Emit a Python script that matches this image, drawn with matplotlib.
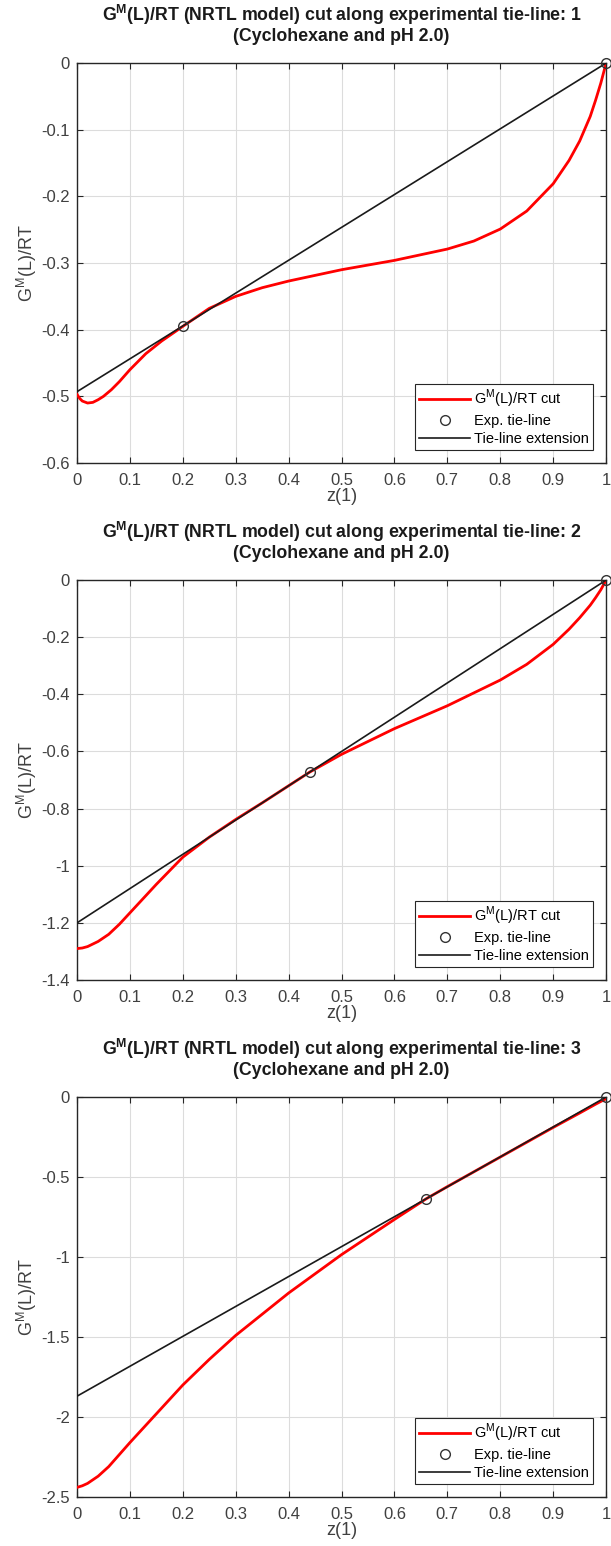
import matplotlib
matplotlib.use("Agg")
import matplotlib.pyplot as plt

plt.rcParams['font.family'] = ['Liberation Sans', 'DejaVu Sans']
plt.rcParams['mathtext.fontset'] = 'custom'
plt.rcParams['mathtext.rm'] = 'Liberation Sans'
plt.rcParams['mathtext.bf'] = 'Liberation Sans:bold'

# 데이터
z1 = [0, 0.005, 0.01, 0.02, 0.03, 0.04, 0.05, 0.065, 0.08, 0.1, 0.13, 0.16, 0.2, 0.25, 0.3,
      0.35, 0.4, 0.5, 0.6, 0.7, 0.75, 0.8, 0.85, 0.9, 0.93, 0.95, 0.97, 0.98, 0.99, 0.995, 1.0]
g1 = [-0.497, -0.503, -0.507, -0.510, -0.509, -0.505, -0.500, -0.490, -0.478, -0.460,
      -0.436, -0.417, -0.395, -0.368, -0.350, -0.337, -0.327, -0.310, -0.296, -0.279,
      -0.267, -0.249, -0.222, -0.181, -0.146, -0.117, -0.080, -0.056, -0.030, -0.015, 0.0]
tie1_z = [0.2, 1.0]
tie1_g = [-0.394, 0.0]
ext1_g0 = -0.493

z2 = [0, 0.01, 0.02, 0.04, 0.06, 0.08, 0.1, 0.15, 0.2, 0.25, 0.3, 0.35, 0.44, 0.5, 0.6, 0.7,
      0.8, 0.85, 0.9, 0.93, 0.95, 0.97, 0.98, 0.99, 1.0]
g2 = [-1.290, -1.288, -1.283, -1.265, -1.240, -1.205, -1.165, -1.065, -0.970, -0.900,
      -0.838, -0.780, -0.672, -0.610, -0.520, -0.440, -0.350, -0.295, -0.225, -0.172,
      -0.132, -0.088, -0.062, -0.034, 0.0]
tie2_z = [0.44, 1.0]
tie2_g = [-0.672, 0.0]
ext2_g0 = -1.2

z3 = [0, 0.01, 0.02, 0.04, 0.06, 0.08, 0.1, 0.15, 0.2, 0.25, 0.3, 0.4, 0.5, 0.6, 0.66, 0.7,
      0.8, 0.9, 0.95, 0.98, 1.0]
g3 = [-2.440, -2.430, -2.415, -2.370, -2.310, -2.235, -2.160, -1.980, -1.800, -1.640,
      -1.490, -1.225, -0.985, -0.765, -0.636, -0.560, -0.375, -0.190, -0.100, -0.045, -0.010]
tie3_z = [0.66, 1.0]
tie3_g = [-0.636, 0.0]
ext3_g0 = -1.87

ylims = [(-0.6, 0), (-1.4, 0), (-2.5, 0)]
yticks = [[-0.6, -0.5, -0.4, -0.3, -0.2, -0.1, 0],
          [-1.4, -1.2, -1, -0.8, -0.6, -0.4, -0.2, 0],
          [-2.5, -2, -1.5, -1, -0.5, 0]]
yticklabels = [['-0.6', '-0.5', '-0.4', '-0.3', '-0.2', '-0.1', '0'],
               ['-1.4', '-1.2', '-1', '-0.8', '-0.6', '-0.4', '-0.2', '0'],
               ['-2.5', '-2', '-1.5', '-1', '-0.5', '0']]
xticks = [0, 0.1, 0.2, 0.3, 0.4, 0.5, 0.6, 0.7, 0.8, 0.9, 1]
xticklabels = ['0', '0.1', '0.2', '0.3', '0.4', '0.5', '0.6', '0.7', '0.8', '0.9', '1']

fig = plt.figure(figsize=(6.11, 15.46), dpi=100)
positions = [[0.126, 0.7005, 0.866, 0.2587],
             [0.126, 0.3661, 0.866, 0.2587],
             [0.126, 0.0317, 0.866, 0.2587]]

datasets = [(z1, g1, tie1_z, tie1_g, ext1_g0),
            (z2, g2, tie2_z, tie2_g, ext2_g0),
            (z3, g3, tie3_z, tie3_g, ext3_g0)]

axcol = '#262626'
for i, (z, g, tz, tg, g0) in enumerate(datasets):
    ax = fig.add_axes(positions[i])
    ax.plot(z, g, color='red', lw=2, label='G$^{\\mathrm{M}}$(L)/RT cut', zorder=3)
    ax.plot(tz, tg, 'o', mfc='none', mec='#333333', ms=7, mew=1.0,
            label='Exp. tie-line', zorder=4, clip_on=False)
    ax.plot([0, 1], [g0, 0], color='#1a1a1a', lw=1.2, label='Tie-line extension', zorder=3)

    ax.set_xlim(0, 1)
    ax.set_ylim(*ylims[i])
    ax.set_xticks(xticks)
    ax.set_xticklabels(xticklabels)
    ax.set_yticks(yticks[i])
    ax.set_yticklabels(yticklabels[i])
    ax.grid(True, color='#dcdcdc', lw=0.8)
    ax.set_axisbelow(True)
    ax.tick_params(direction='in', length=4, top=True, right=True,
                   colors=axcol, labelsize=12, labelcolor='#404040')
    ax.tick_params(axis='x', pad=7)
    ax.tick_params(axis='y', pad=5)
    for s in ax.spines.values():
        s.set_color(axcol)
        s.set_linewidth(1.0)

    ax.set_title('G$^{\\mathbf{M}}$(L)/RT (NRTL model) cut along experimental tie-line: %d\n'
                 '(Cyclohexane and pH 2.0)' % (i + 1),
                 fontsize=12.8, fontweight='bold', color='#1a1a1a', pad=16, linespacing=1.1)
    ax.set_ylabel('G$^{\\mathrm{M}}$(L)/RT', fontsize=13, color='#404040', labelpad=2)
    ax.set_xlabel('z(1)', fontsize=13, color='#404040', labelpad=0)

    leg = ax.legend(loc='lower right', fontsize=10.5, frameon=True, fancybox=False,
                    edgecolor=axcol, framealpha=1, borderaxespad=0.9, borderpad=0.25,
                    handlelength=3.5, labelspacing=0.28, handletextpad=0.3)
    leg.get_frame().set_linewidth(0.8)

plt.savefig("out.png", dpi=100)
